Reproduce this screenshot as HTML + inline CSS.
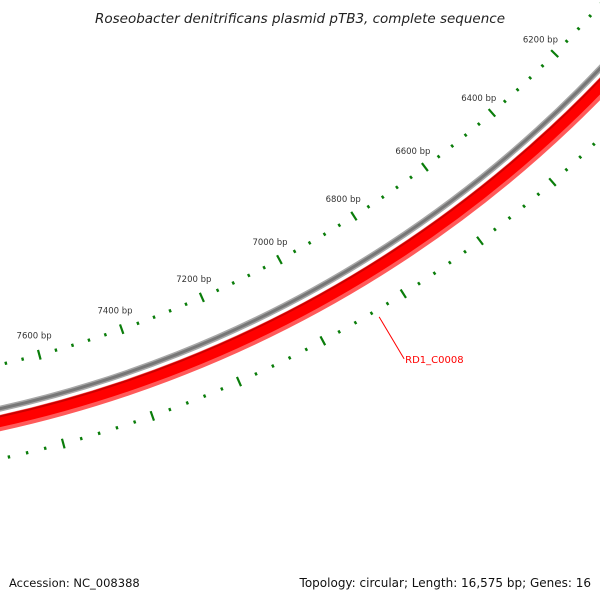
<!DOCTYPE html>
<html><head><meta charset="utf-8"><style>
html,body{margin:0;padding:0;background:#fff;}
svg{display:block;}
</style></head><body>
<svg id="map" width="600" height="600" viewBox="0 0 600 600" xmlns="http://www.w3.org/2000/svg">
<rect width="600" height="600" fill="#fff"/>
<g id="rings"></g>
<g id="ticks"></g>
<g id="labels"></g>
<text x="300" y="23" text-anchor="middle" font-family="DejaVu Sans, sans-serif" font-style="italic" font-size="13.5" fill="#222">Roseobacter denitrificans plasmid pTB3, complete sequence</text>
<text x="9" y="587" font-family="DejaVu Sans, sans-serif" font-size="11.5" fill="#111">Accession: NC_008388</text>
<text x="591" y="587" text-anchor="end" font-family="DejaVu Sans, sans-serif" font-size="12" fill="#111">Topology: circular; Length: 16,575 bp; Genes: 16</text>
</svg>
<script>
const seqLength = [16575];
const tickStart = [5800];
const tickEnd = [8200];
const minorStep = [40];
const majorStep = [200];
const featureNames = ['RD1_C0008'];
const featureBp = [6870];

const NS = 'http://www.w3.org/2000/svg';
const CX = -257, CY = -744;
function ang(bp){ return (44.5 + (bp - 6200) * 360 / seqLength[0]) * Math.PI / 180; }
function pt(bp, r){ const a = ang(bp); return [CX + r * Math.cos(a), CY + r * Math.sin(a)]; }
function mk(tag, attrs){ const e = document.createElementNS(NS, tag); for (const k in attrs) e.setAttribute(k, attrs[k]); return e; }

const rings = document.getElementById('rings');
const ringDefs = [
  ['backbone-ring-edge', 1181, 6, '#a8a8a8'],
  ['backbone-ring', 1181, 3, '#777'],
  ['feature-ring-outer', 1195, 16, '#ff5a5a'],
  ['feature-ring', 1193.5, 11, '#ff0000'],
  ['feature-ring-inner', 1188.5, 2, '#cc0000']
];
ringDefs.forEach(d => {
  const c = mk('circle', {cx: CX, cy: CY, r: d[1], fill: 'none', stroke: d[3], 'stroke-width': d[2]});
  
  
  rings.appendChild(c);
});

const ticks = document.getElementById('ticks');
const labels = document.getElementById('labels');
[1138, 1230].forEach((rc, ri) => {
  for (let bp = tickStart[0]; bp <= tickEnd[0]; bp += minorStep[0]) {
    const major = bp % majorStep[0] === 0;
    const h = major ? 5 : 1.6;
    const p1 = pt(bp, rc - h), p2 = pt(bp, rc + h);
    const l = mk('line', {x1: p1[0], y1: p1[1], x2: p2[0], y2: p2[1], stroke: '#0a7d0a', 'stroke-width': major ? 2.2 : 2.4});
    
    
    ticks.appendChild(l);
    if (major && ri === 0) {
      const lp = pt(bp, 1118);
      const t = mk('text', {x: lp[0], y: lp[1] + 3, 'text-anchor': 'middle', 'font-family': 'DejaVu Sans, sans-serif', 'font-size': '8.5', fill: '#333'});
      t.textContent = bp + ' bp';
      
      
      labels.appendChild(t);
    }
  }
});

featureNames.forEach((n, i) => {
  const p = pt(featureBp[i], 1237);
  const ex = p[0] + 25, ey = p[1] + 42;
  const l = mk('line', {x1: p[0], y1: p[1], x2: ex, y2: ey, stroke: '#ff0000', 'stroke-width': 1});
  
  
  labels.appendChild(l);
  const t = mk('text', {x: ex + 1, y: ey + 4, 'font-family': 'DejaVu Sans, sans-serif', 'font-size': '10', fill: '#ff0000'});
  t.textContent = n;
  
  
  labels.appendChild(t);
});
</script>
</body></html>
